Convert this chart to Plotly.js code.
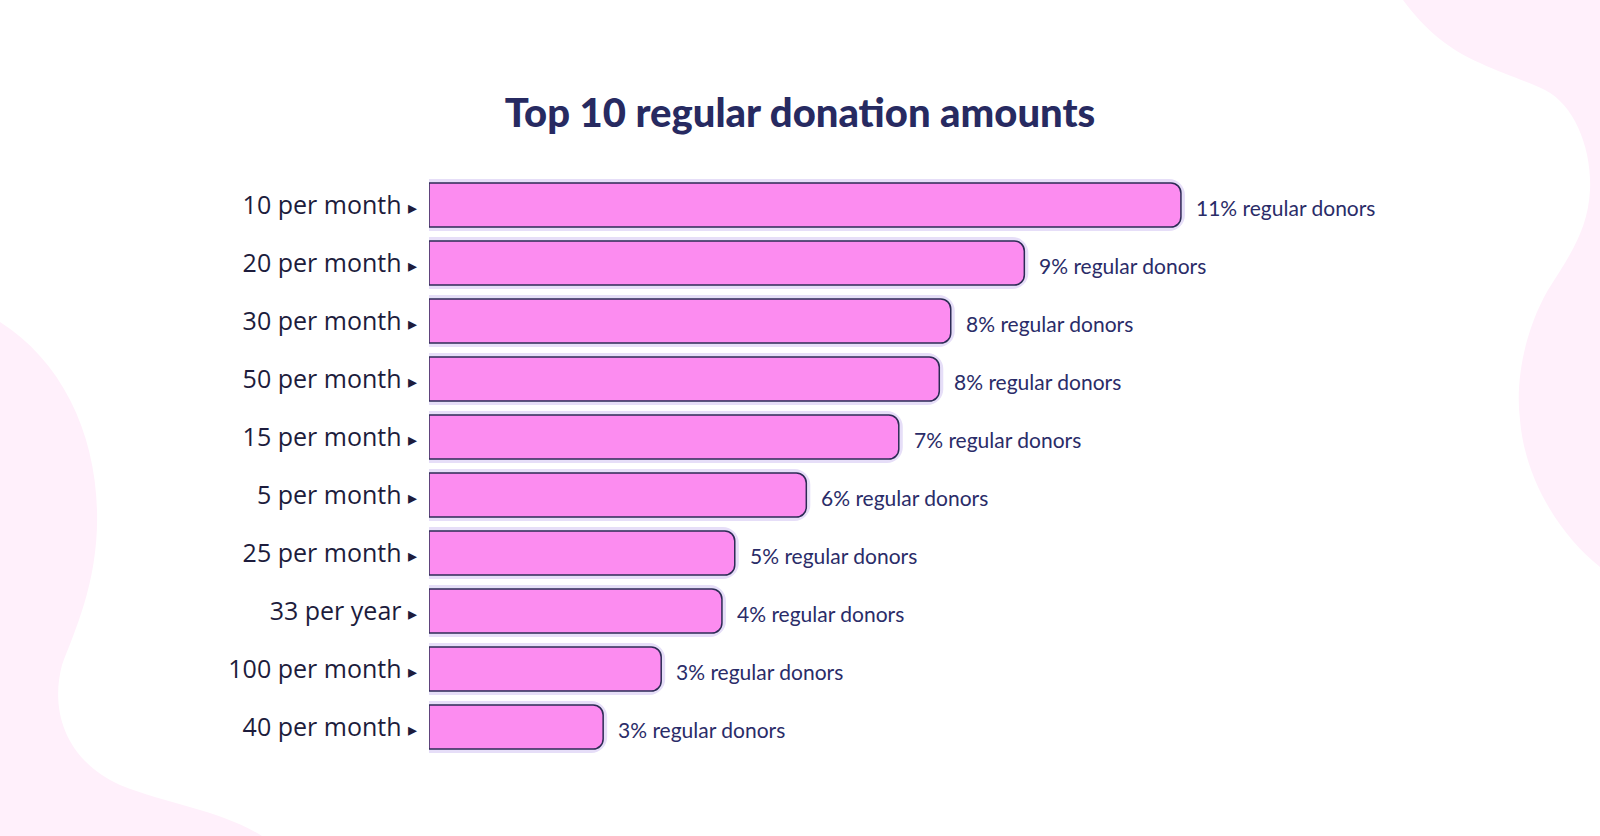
<!DOCTYPE html>
<html>
<head>
<meta charset="utf-8">
<script src="https://cdn.plot.ly/plotly-3.0.1.min.js"></script>
<style>
  html, body { margin: 0; padding: 0; background: #ffffff; }
  #wrap { position: relative; width: 1600px; height: 836px; overflow: hidden; }
  #bg { position: absolute; left: 0; top: 0; }
  #chart { position: absolute; left: 0; top: 0; width: 1600px; height: 836px; }
</style>
</head>
<body>
<div id="wrap">
  <svg id="bg" width="1600" height="836" viewBox="0 0 1600 836">
    <path fill="#fff0fb" d="M0,322 C60,360 95,430 97,510 C99,580 75,630 62,665 C50,710 65,760 120,785 C170,805 220,810 262,836 L0,836 Z"/>
    <path fill="#fff0fb" d="M1403,0 C1425,30 1450,50 1480,63 C1505,75 1525,80 1545,90 C1575,105 1592,150 1590,190 C1588,230 1570,255 1548,290 C1525,330 1515,380 1520,420 C1525,480 1560,535 1600,567 L1600,0 Z"/>
  </svg>
  <div id="chart"></div>
</div>
<script>
const categories = ["10 per month", "20 per month", "30 per month", "50 per month", "15 per month",
                    "5 per month", "25 per month", "33 per year", "100 per month", "40 per month"];
const shares = [11.14, 8.82, 7.73, 7.56, 6.96, 5.59, 4.53, 4.34, 3.44, 2.58];
const shareLabels = ["11% regular donors", "9% regular donors", "8% regular donors", "8% regular donors",
                     "7% regular donors", "6% regular donors", "5% regular donors", "4% regular donors",
                     "3% regular donors", "3% regular donors"];
const tickLabels = categories.map(c => c + " <span style='font-size:18px'>▸</span>");

const halo = {
  type: "bar", orientation: "h",
  x: shares, y: categories,
  width: 0.76,
  marker: { color: "#e6def8", line: { color: "#e6def8", width: 8 }, cornerradius: 12 },
  hoverinfo: "skip", showlegend: false
};
const bars = {
  type: "bar", orientation: "h",
  x: shares, y: categories,
  width: 0.76,
  marker: { color: "#fc8cf0", line: { color: "#2d2b55", width: 1.5 }, cornerradius: 10 },
  showlegend: false
};

const annotations = categories.map((c, i) => ({
  x: shares[i], y: c, xref: "x", yref: "y",
  text: shareLabels[i], showarrow: false,
  xanchor: "left", yanchor: "middle", xshift: 13, yshift: -2,
  font: { family: "Lato, sans-serif", size: 21, color: "#2a2c68" }
}));

const layout = {
  width: 1600, height: 836,
  paper_bgcolor: "rgba(0,0,0,0)", plot_bgcolor: "rgba(0,0,0,0)",
  margin: { l: 429, r: 100, t: 176, b: 80 },
  barmode: "overlay",
  title: {
    text: "Top 10 regular donation amounts",
    x: 0.5, xref: "container", xanchor: "center",
    y: 0.865, yref: "container", yanchor: "middle",
    font: { family: "Lato, sans-serif", size: 40, weight: 900, color: "#272a61" }
  },
  xaxis: {
    range: [0, 15.867], showgrid: false, zeroline: false, showline: false,
    showticklabels: false, ticks: "", fixedrange: true
  },
  yaxis: {
    type: "category", categoryorder: "array", categoryarray: categories,
    tickmode: "array", tickvals: categories, ticktext: tickLabels,
    range: [9.5, -0.5], showgrid: false, zeroline: false, showline: false,
    ticks: "", ticklabelstandoff: 11,
    tickfont: { family: "Open Sans, sans-serif", size: 25, color: "#1d1c3c" },
    fixedrange: true
  },
  annotations: annotations,
  showlegend: false
};

Plotly.newPlot("chart", [halo, bars], layout, { displayModeBar: false, staticPlot: true });
</script>
</body>
</html>
